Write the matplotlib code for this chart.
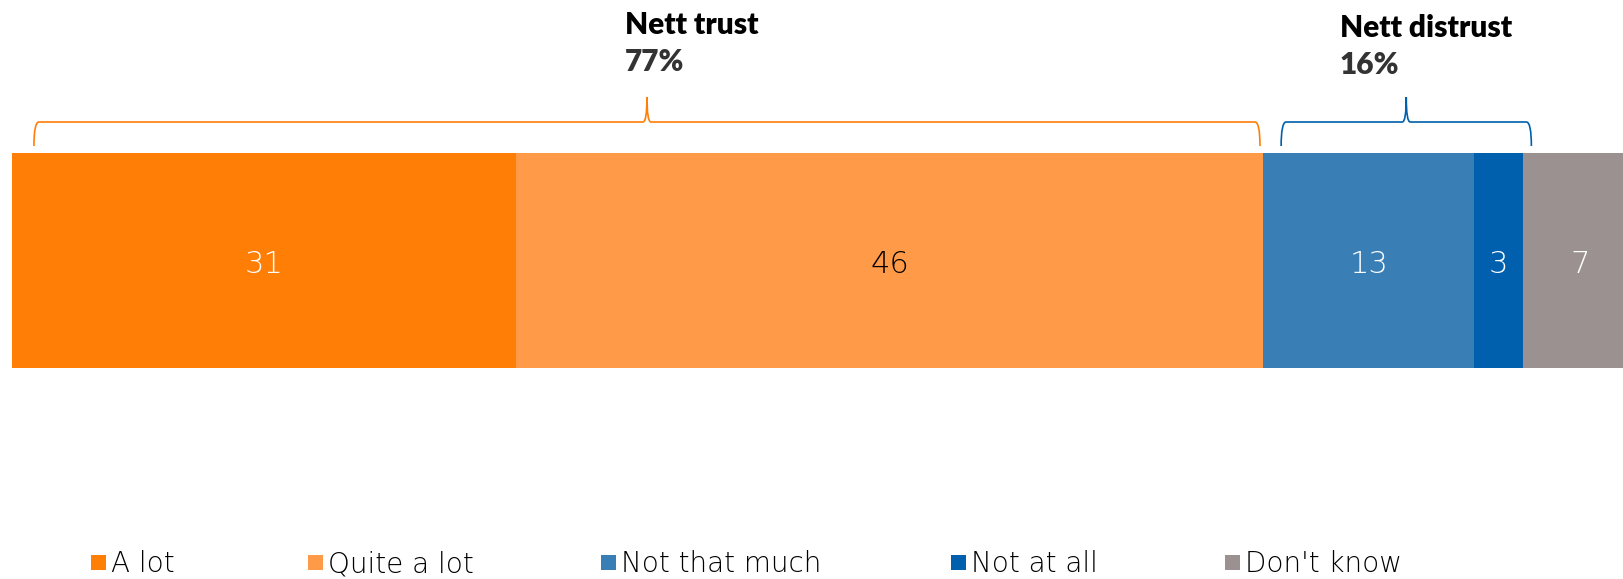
import matplotlib
matplotlib.use("Agg")
import matplotlib.pyplot as plt
from matplotlib.path import Path
from matplotlib.patches import PathPatch, Rectangle
from matplotlib.transforms import blended_transform_factory

# Trust survey: share of responses by category (percent)
categories = ["A lot", "Quite a lot", "Not that much", "Not at all", "Don't know"]
values = [31, 46, 13, 3, 7]
colors = ["#FF7E06", "#FF9A48", "#3A7EB6", "#0060AD", "#9C9191"]
label_colors = ["white", "black", "white", "white", "white"]

# Grouped totals shown above the bar
groups = ["Nett trust", "Nett distrust"]
group_members = [[0, 1], [2, 3]]
group_totals = [77, 16]
group_colors = ["#FF7E06", "#0060AD"]

W, H = 1624, 579
fig = plt.figure(figsize=(W / 100, H / 100), dpi=100)
BODY = ["DejaVu Sans"]
HEAD = ["Lato", "DejaVu Sans"]

def px_x(x):
    return x / W

def px_y(y):
    return 1 - y / H

ax = fig.add_axes([px_x(12), px_y(368), 1625 / W, (368 - 153) / H])
left = 0
for v, c, lc in zip(values, colors, label_colors):
    ax.barh(0, v, left=left, height=1.0, color=c, edgecolor="none")
    ax.text(left + v / 2, -0.02, f"{v}", ha="center", va="center", color=lc,
            fontsize=22, family=BODY, fontweight="light")
    left += v
ax.set_xlim(0, 100)
ax.set_ylim(-0.5, 0.5)
ax.axis("off")

# Curly braces above each group
tr = blended_transform_factory(ax.transData, fig.transFigure)
y_tip, y_mid, y_peak = px_y(146), px_y(122), px_y(97)
unit_px = 1625 / 100
r = 5 / unit_px
cusp = 4 / unit_px
starts = [0, values[0] + values[1]]
pads = [(1.35, -0.2), (1.1, 0.5)]
text_x = [37.7, 81.7]
text_top = [11, 14]
for gi, (name, members, total, gc) in enumerate(zip(groups, group_members, group_totals, group_colors)):
    s = starts[gi]
    e = s + sum(values[m] for m in members)
    x0 = s + pads[gi][0]
    x1 = e + pads[gi][1]
    xp = (x0 + x1) / 2
    verts = [
        (x0, y_tip), (x0, y_mid), (x0 + r, y_mid),
        (xp - cusp, y_mid),
        (xp, y_mid), (xp, y_peak),
        (xp, y_mid), (xp + cusp, y_mid),
        (x1 - r, y_mid),
        (x1, y_mid), (x1, y_tip),
    ]
    codes = [Path.MOVETO, Path.CURVE3, Path.CURVE3,
             Path.LINETO,
             Path.CURVE3, Path.CURVE3,
             Path.CURVE3, Path.CURVE3,
             Path.LINETO,
             Path.CURVE3, Path.CURVE3]
    patch = PathPatch(Path(verts, codes), facecolor="none", edgecolor=gc,
                      lw=1.2, transform=tr, clip_on=False)
    fig.add_artist(patch)
    fig.text(text_x[gi], px_y(text_top[gi]), name, transform=tr, family=HEAD,
             fontweight="heavy", fontsize=21.5, color="black", ha="left", va="top")
    fig.text(text_x[gi], px_y(text_top[gi] + 37), f"{total}%", transform=tr,
             family=HEAD, fontweight="heavy", fontsize=21.5, color="#333333",
             ha="left", va="top")

# Legend row along the bottom edge
legend_x = [91, 308, 601, 951, 1225]
sq = 15
base = 572
for name, c, lx in zip(categories, colors, legend_x):
    fig.add_artist(Rectangle((px_x(lx), px_y(base - 2)), sq / W, sq / H,
                             transform=fig.transFigure, facecolor=c, edgecolor="none"))
    fig.text(px_x(lx + sq + 5), px_y(base), name, family=BODY, fontweight="light",
             fontsize=20, color="black", ha="left", va="baseline")

fig.savefig("out.png", dpi=100)
